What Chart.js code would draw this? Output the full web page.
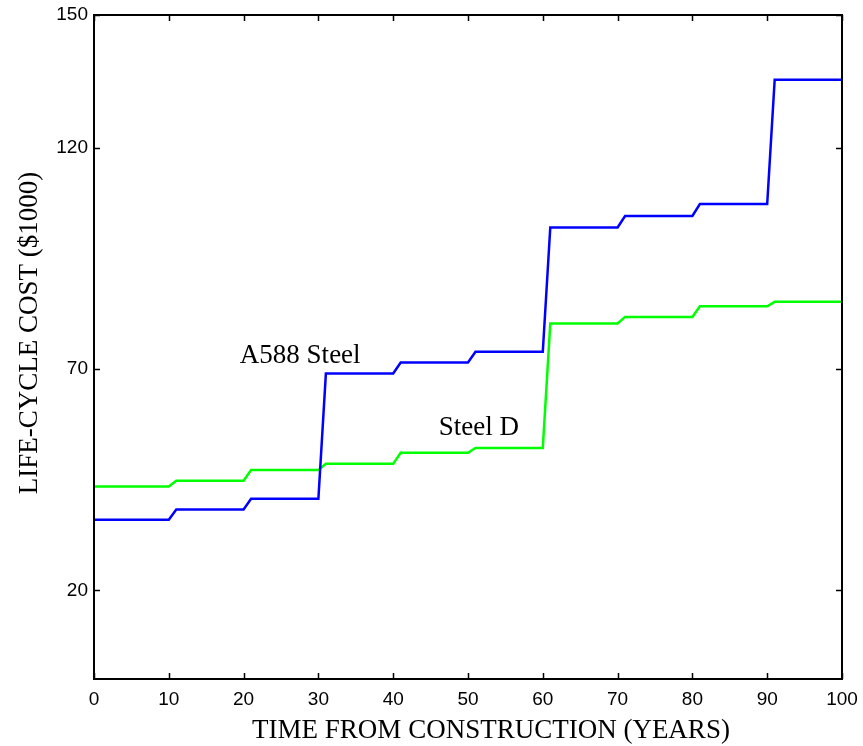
<!DOCTYPE html>
<html>
<head>
<meta charset="utf-8">
<script src="https://cdn.jsdelivr.net/npm/chart.js@4"></script>
<style>
  html, body { margin: 0; padding: 0; background: #fff; }
  #wrap { width: 863px; height: 746px; }
</style>
</head>
<body>
<div id="wrap"><canvas id="lccChart" width="863" height="746"></canvas></div>
<script>
// years where the cost steps (each repair adds a jump over one year)
const years = [0, 10, 11, 20, 21, 30, 31, 40, 41, 50, 51, 60, 61, 70, 71, 80, 81, 90, 91, 100];
const a588Cost = [36.0, 36.0, 38.3, 38.3, 40.7, 40.7, 69.0, 69.0, 71.5, 71.5, 73.9, 73.9, 102.0, 102.0, 104.6, 104.6, 107.3, 107.3, 135.4, 135.4];
const steelDCost = [43.5, 43.5, 44.8, 44.8, 47.2, 47.2, 48.6, 48.6, 51.1, 51.1, 52.2, 52.2, 80.3, 80.3, 81.8, 81.8, 84.2, 84.2, 85.2, 85.2];

const xTicks = [0, 10, 20, 30, 40, 50, 60, 70, 80, 90, 100];
const yTicks = [20, 70, 120, 150];

const labelA588 = 'A588 Steel';
const labelSteelD = 'Steel D';
const xTitle = 'TIME FROM CONSTRUCTION (YEARS)';
const yTitle = 'LIFE-CYCLE COST ($1000)';

const toPoints = (vals) => years.map((yr, i) => ({ x: yr, y: vals[i] }));

const serif = '27px "Liberation Serif", "Times New Roman", serif';

// frame + inward ticks on all four sides, MATLAB style
const framePlugin = {
  id: 'frame',
  afterDatasetsDraw(chart) {
    const { ctx, chartArea: a, scales } = chart;
    const len = 6;
    ctx.save();
    ctx.strokeStyle = '#000';
    ctx.lineWidth = 1.5;
    ctx.beginPath();
    xTicks.forEach(v => {
      const px = Math.round(scales.x.getPixelForValue(v)) + 0.5;
      ctx.moveTo(px, a.bottom); ctx.lineTo(px, a.bottom - len);
      ctx.moveTo(px, a.top); ctx.lineTo(px, a.top + len);
    });
    yTicks.forEach(v => {
      const py = Math.round(scales.y.getPixelForValue(v)) + 0.5;
      ctx.moveTo(a.left, py); ctx.lineTo(a.left + len, py);
      ctx.moveTo(a.right, py); ctx.lineTo(a.right - len, py);
    });
    ctx.stroke();
    ctx.lineWidth = 2;
    ctx.strokeRect(a.left, a.top, a.right - a.left, a.bottom - a.top);
    ctx.restore();
  }
};

// curve labels (data units) and the two axis titles
const notesPlugin = {
  id: 'notes',
  afterDatasetsDraw(chart) {
    const { ctx, scales } = chart;
    const notes = [
      { text: labelA588, x: 19.5, y: 73.0 },
      { text: labelSteelD, x: 46.1, y: 56.8 }
    ];
    ctx.save();
    ctx.fillStyle = '#000';
    ctx.font = serif;
    ctx.textAlign = 'left';
    ctx.textBaseline = 'middle';
    notes.forEach(n => {
      ctx.fillText(n.text, scales.x.getPixelForValue(n.x), scales.y.getPixelForValue(n.y));
    });

    ctx.textAlign = 'center';
    ctx.fillText(xTitle, 491, 731);
    ctx.translate(30, 333);
    ctx.rotate(-Math.PI / 2);
    ctx.fillText(yTitle, 0, 0);
    ctx.restore();
  }
};

const tickFont = { family: '"Liberation Sans", Arial, sans-serif', size: 19 };

new Chart(document.getElementById('lccChart').getContext('2d'), {
  type: 'line',
  data: {
    datasets: [
      {
        label: labelA588,
        data: toPoints(a588Cost),
        borderColor: '#0000ff',
        borderWidth: 2.5,
        pointRadius: 0,
        tension: 0,
        fill: false
      },
      {
        label: labelSteelD,
        data: toPoints(steelDCost),
        borderColor: '#00ff00',
        borderWidth: 2.5,
        pointRadius: 0,
        tension: 0,
        fill: false
      }
    ]
  },
  options: {
    responsive: false,
    animation: false,
    layout: { padding: { top: 15, right: 21, left: 0, bottom: 0 } },
    plugins: {
      legend: { display: false },
      tooltip: { enabled: false }
    },
    scales: {
      x: {
        type: 'linear',
        min: 0,
        max: 100,
        afterBuildTicks: (scale) => { scale.ticks = xTicks.map(v => ({ value: v })); },
        afterFit: (scale) => {
          scale.height = 67;
          scale.paddingLeft = 0;
          scale.paddingRight = 0;
        },
        grid: { display: false, drawTicks: false },
        border: { display: false },
        ticks: { color: '#000', font: tickFont, padding: 9, maxRotation: 0, autoSkip: false }
      },
      y: {
        type: 'linear',
        min: 0,
        max: 150,
        afterBuildTicks: (scale) => { scale.ticks = yTicks.map(v => ({ value: v })); },
        afterFit: (scale) => {
          scale.width = 94;
          scale.paddingTop = 0;
          scale.paddingBottom = 0;
        },
        grid: { display: false, drawTicks: false },
        border: { display: false },
        ticks: { color: '#000', font: tickFont, padding: 6, autoSkip: false }
      }
    }
  },
  plugins: [framePlugin, notesPlugin]
});
</script>
</body>
</html>
